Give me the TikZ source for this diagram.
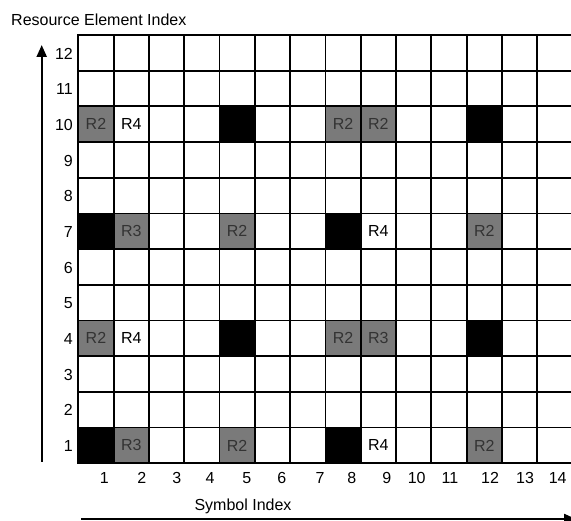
\documentclass[tikz,border=0pt]{standalone}
\usepackage{fontspec}
\setmainfont{Liberation Sans}
\usetikzlibrary{arrows.meta}
\newcommand\setcellfill[3]{\expandafter\def\csname fc#1-#2\endcsname{#3}}
\setcellfill{1}{10}{gcol}\setcellfill{8}{10}{gcol}\setcellfill{9}{10}{gcol}
\setcellfill{5}{10}{black}\setcellfill{12}{10}{black}
\setcellfill{2}{7}{gcol}\setcellfill{5}{7}{gcol}\setcellfill{12}{7}{gcol}
\setcellfill{1}{7}{black}\setcellfill{8}{7}{black}
\setcellfill{1}{4}{gcol}\setcellfill{8}{4}{gcol}\setcellfill{9}{4}{gcol}
\setcellfill{5}{4}{black}\setcellfill{12}{4}{black}
\setcellfill{2}{1}{gcol}\setcellfill{5}{1}{gcol}\setcellfill{12}{1}{gcol}
\setcellfill{1}{1}{black}\setcellfill{8}{1}{black}
\colorlet{gcol}{black!52}
\begin{document}
\begin{tikzpicture}[x=1pt,y=-1pt,
  txt/.style={font=\fontsize{16}{19}\selectfont,inner sep=0pt},
  cell/.style={draw=black,line width=1.8pt,minimum width=35.3pt,minimum height=35.69pt,
    inner sep=0pt,outer sep=0pt,anchor=north west},
  gtxt/.style={txt,text=black!80},
  wtxt/.style={txt,text=black},
  axis/.style={line width=2.2pt,-{Triangle[width=10pt,length=12pt]}}]
\useasboundingbox (0,0) rectangle (571,521);
% cells
\foreach \c in {1,...,14}{
  \foreach \r in {1,...,12}{
    \edef\cf{\ifcsname fc\c-\r\endcsname\csname fc\c-\r\endcsname\else white\fi}
    \node[cell,fill=\cf] (c-\c-\r) at ({78.3+(\c-1)*35.3},{35+(12-\r)*35.69}) {};
  }
}
% cell texts
\foreach \c/\r/\t in {1/10/R2,8/10/R2,9/10/R2,2/7/R3,5/7/R2,12/7/R2,1/4/R2,8/4/R2,9/4/R3,2/1/R3,5/1/R2,12/1/R2}{
  \node[gtxt] (t-\c-\r) at (c-\c-\r.center) {\t};
}
\foreach \c/\r/\t in {2/10/R4,9/7/R4,2/4/R4,9/1/R4}{
  \node[wtxt] (t-\c-\r) at (c-\c-\r.center) {\t};
}
% row labels
\foreach \r in {1,...,12}{
  \node[txt,anchor=east] (rl-\r) at ({73},{35+(12-\r)*35.69+18.5}) {\r};
}
% column labels
\foreach \c/\x in {1/104.3,2/141.7,3/176.7,4/210,5/246.7,6/281.7,7/320,8/351.7,9/386.7,10/416.7,11/450,12/490,13/525,14/557.7}{
  \node[txt] (cl-\c) at (\x,478) {\c};
}
% titles
\node[txt,anchor=west] (ytitle) at (11,20) {Resource Element Index};
\node[txt] (xtitle) at (243,506) {Symbol Index};
% axes
\coordinate (ya) at (41.7,462);
\coordinate (yb) at (41.7,45);
\coordinate (xa) at (81,519);
\coordinate (xb) at (576,519);
\draw[axis] (ya) -- (yb);
\draw[axis] (xa) -- (xb);
\end{tikzpicture}
\end{document}
